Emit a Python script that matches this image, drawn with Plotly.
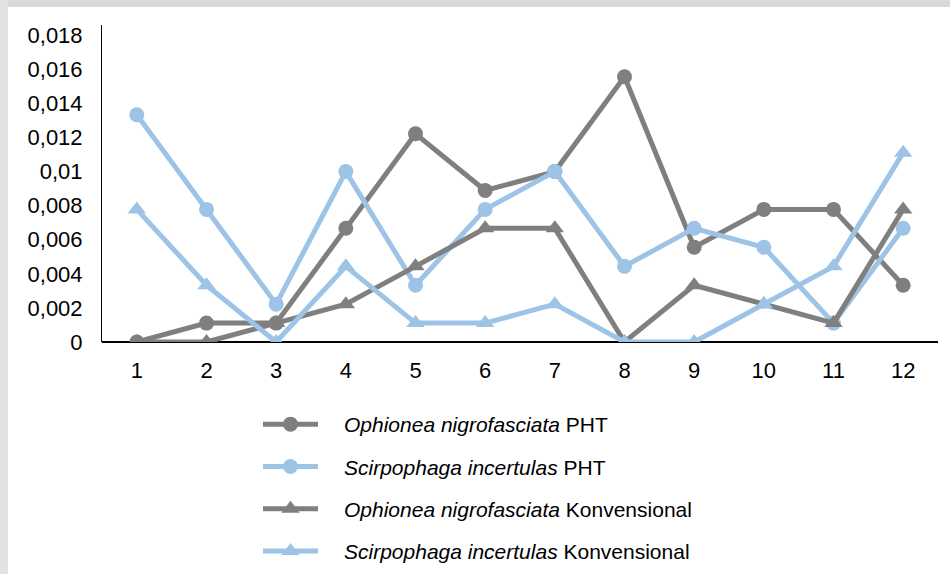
import plotly.graph_objects as go

months = [1, 2, 3, 4, 5, 6, 7, 8, 9, 10, 11, 12]
ophionea_pht = [0, 0.00111, 0.00111, 0.00667, 0.01222, 0.00889, 0.01, 0.01556, 0.00556, 0.00778, 0.00778, 0.00333]
scirpophaga_pht = [0.01333, 0.00778, 0.00222, 0.01, 0.00333, 0.00778, 0.01, 0.00444, 0.00667, 0.00556, 0.00111, 0.00667]
ophionea_konv = [0, 0, 0.00111, 0.00222, 0.00444, 0.00667, 0.00667, 0, 0.00333, 0.00222, 0.00111, 0.00778]
scirpophaga_konv = [0.00778, 0.00333, 0, 0.00444, 0.00111, 0.00111, 0.00222, 0, 0, 0.00222, 0.00444, 0.01111]

y_tickvals = [0, 0.002, 0.004, 0.006, 0.008, 0.01, 0.012, 0.014, 0.016, 0.018]
y_ticktext = ["0", "0,002", "0,004", "0,006", "0,008", "0,01", "0,012", "0,014", "0,016", "0,018"]

names = [
    "<i>Ophionea nigrofasciata</i> PHT",
    "<i>Scirpophaga incertulas</i> PHT",
    "<i>Ophionea nigrofasciata</i> Konvensional",
    "<i>Scirpophaga incertulas</i> Konvensional",
]
series = [ophionea_pht, scirpophaga_pht, ophionea_konv, scirpophaga_konv]
GRAY = "#7f7f7f"
BLUE = "#9dc3e6"
colors = [GRAY, BLUE, GRAY, BLUE]
symbols = ["circle", "circle", "triangle-up", "triangle-up"]

fig = go.Figure()
for i, (nm, ys, c, s) in enumerate(zip(names, series, colors, symbols)):
    fig.add_trace(go.Scatter(
        x=months, y=ys, name="\u2002\u2002" + nm, mode="lines+markers",
        line=dict(color=c, width=5),
        marker=dict(color=c, symbol=s, size=15 if s == "circle" else 16),
        legendgroup=f"g{i}",
    ))

W, H = 950, 574
L, R, T, B = 102, 12, 25, 232
pw, ph = W - L - R, H - T - B

def px_x(x):
    return (x - L) / pw

def px_y(y):
    return (H - B - y) / ph

shapes = [
    dict(type="rect", xref="paper", yref="paper", x0=px_x(0), x1=px_x(W), y0=px_y(7), y1=px_y(0),
         fillcolor="#d9d9d9", line=dict(width=0), layer="below"),
    dict(type="rect", xref="paper", yref="paper", x0=px_x(0), x1=px_x(8), y0=px_y(H), y1=px_y(0),
         fillcolor="#e2e2e2", line=dict(width=0), layer="below"),
]

fig.update_layout(
    width=W, height=H,
    margin=dict(l=L, r=R, t=T, b=B, autoexpand=False),
    paper_bgcolor="white", plot_bgcolor="white",
    font=dict(family="Liberation Sans, Arial, sans-serif", size=22, color="black"),
    separators=",.",
    shapes=shapes,
    showlegend=True,
    legend=dict(
        x=px_x(258), y=px_y(404), xanchor="left", yanchor="top",
        font=dict(size=21, color="black"), tracegroupgap=12, itemwidth=55,
        bgcolor="rgba(0,0,0,0)",
    ),
    xaxis=dict(
        range=[0.5, 12.5], tickmode="array", tickvals=months,
        ticktext=[str(m) for m in months],
        showgrid=False, zeroline=False, showline=False, ticks="",
        ticklabelstandoff=13, fixedrange=True,
    ),
    yaxis=dict(
        range=[0, 0.0186], tickmode="array", tickvals=y_tickvals, ticktext=y_ticktext,
        showgrid=False, zeroline=True, zerolinecolor="black", zerolinewidth=2,
        showline=True, linecolor="black", linewidth=1, ticks="",
        ticklabelstandoff=14, fixedrange=True,
    ),
)

fig.write_html(
    "out.html",
    config={"displayModeBar": False, "responsive": False},
    post_script="document.body.style.margin='0';",
)
